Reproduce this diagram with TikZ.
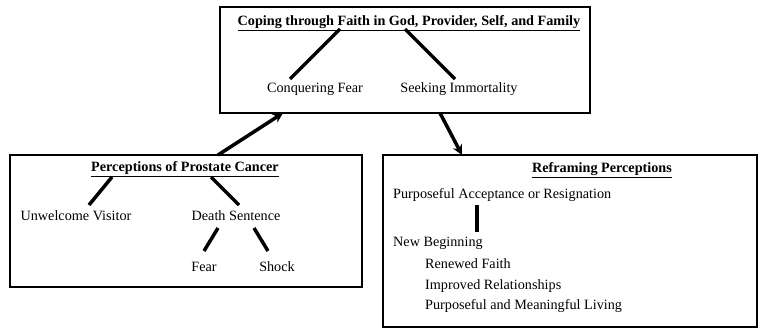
\documentclass[tikz,border=0pt]{standalone}
\usepackage{fontspec}
\setmainfont{Liberation Serif}
\usetikzlibrary{arrows.meta}
\begin{document}
\begin{tikzpicture}[x=1pt,y=-1pt,
  box/.style={draw,line width=1.3pt},
  txt/.style={inner sep=0pt,font=\fontsize{14.2}{16}\selectfont},
  ttl/.style={inner sep=0pt,font=\fontsize{14.2}{16}\selectfont\bfseries},
  branch/.style={line width=3.5pt},
  flow/.style={line width=3.5pt,-{Stealth[length=10pt,width=10pt]}}]
\useasboundingbox (0,0) rectangle (760,329);
% boxes
\draw[box] (220,7) rectangle (590,113);
\draw[box] (10,155) rectangle (362,287);
\draw[box] (383,155) rectangle (757,327);
\coordinate (topB1) at (283,113);
\coordinate (topB2) at (440,113);
\coordinate (leftT) at (218,155);
\coordinate (rightT) at (462,155);
% top box
\node[ttl] (t) at (409,23) {\underline{Coping through Faith in God, Provider, Self, and Family}};
\node[txt] (cf) at (315,89) {Conquering Fear};
\node[txt] (si) at (459,89) {Seeking Immortality};
\coordinate (t1) at (340,29); \coordinate (cf1) at (290,79);
\coordinate (t2) at (405,29); \coordinate (si1) at (455,79);
\draw[branch] (t1) -- (cf1);
\draw[branch] (t2) -- (si1);
% left box
\node[ttl] (p) at (185,169) {\underline{Perceptions of Prostate Cancer}};
\node[txt] (uv) at (76,216) {Unwelcome Visitor};
\node[txt] (ds) at (236,216) {Death Sentence};
\node[txt] (fe) at (204,267) {Fear};
\node[txt] (sh) at (277,267) {Shock};
\coordinate (p1) at (112,177); \coordinate (uv1) at (89,205);
\coordinate (p2) at (211,177); \coordinate (ds1) at (239,205);
\coordinate (ds2) at (218,228); \coordinate (fe1) at (204,251);
\coordinate (ds3) at (254,228); \coordinate (sh1) at (268,251);
\draw[branch] (p1) -- (uv1);
\draw[branch] (p2) -- (ds1);
\draw[branch] (ds2) -- (fe1);
\draw[branch] (ds3) -- (sh1);
% right box
\node[ttl] (r) at (602,170) {\underline{Reframing Perceptions}};
\node[txt,anchor=west] (pa) at (393,195) {Purposeful Acceptance or Resignation};
\node[txt,anchor=west] (nb) at (393,243) {New Beginning};
\node[txt,anchor=west] (rf) at (425,264) {Renewed Faith};
\node[txt,anchor=west] (ir) at (425,286) {Improved Relationships};
\node[txt,anchor=west] (pm) at (425,306) {Purposeful and Meaningful Living};
\coordinate (pa1) at (477,205); \coordinate (nb1) at (477,232);
\draw[line width=3.5pt] (pa1) -- (nb1);
% arrows
\draw[flow] (leftT) -- (topB1);
\draw[flow] (topB2) -- (rightT);
\end{tikzpicture}
\end{document}
